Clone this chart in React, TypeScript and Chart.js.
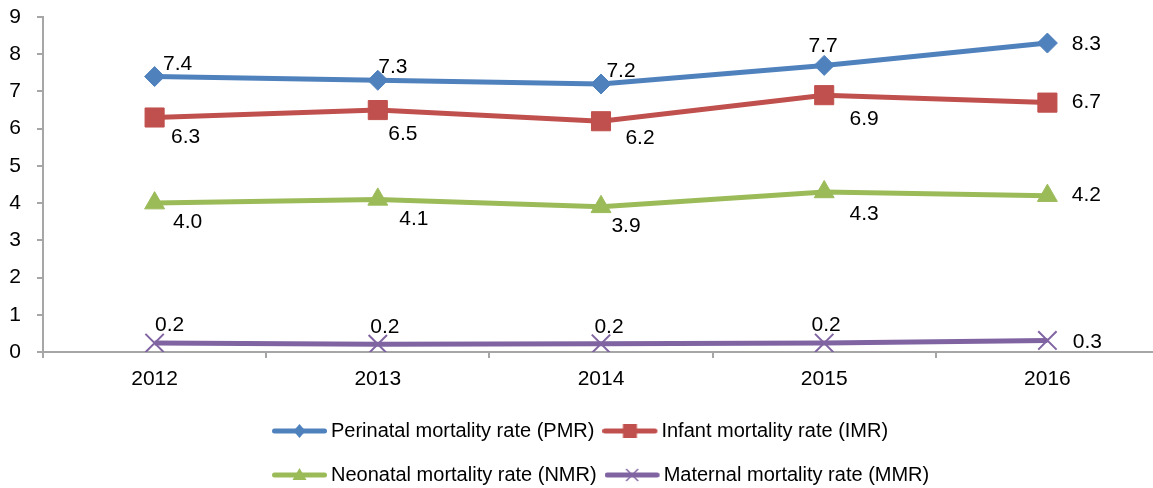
import React, { useEffect, useRef } from 'react';
import { Chart, registerables } from 'chart.js';

Chart.register(...registerables);

// ---- data ----
const years = ['2012', '2013', '2014', '2015', '2016'];
const pmrValues = [7.4, 7.3, 7.2, 7.7, 8.3];
const imrValues = [6.3, 6.5, 6.2, 6.9, 6.7];
const nmrValues = [4.0, 4.1, 3.9, 4.3, 4.2];
const mmrValues = [0.24, 0.21, 0.22, 0.24, 0.31];
const seriesNames = [
  'Perinatal mortality rate (PMR)',
  'Infant mortality rate (IMR)',
  'Neonatal mortality rate (NMR)',
  'Maternal mortality rate (MMR)',
];
const yMin = 0;
const yMax = 9;
const yStep = 1;

// ---- styles / layout ----
const FONT = "'Liberation Sans', Arial, sans-serif";
const colors = ['#4F81BD', '#C0504D', '#9BBB59', '#8064A2'];
const shapes = ['rectRot', 'rect', 'triangle', 'crossRot'];
const radii = [10, 13.5, 11.5, 13];
const axisColor = '#A6A6A6';
// data label offsets (text centre relative to the point), per series, per point
const labelOffsets = [
  [[23, -12], [15, -13], [20, -13], [-1, -19], [39, 1]],
  [[31, 20], [25, 24], [39, 17], [40, 24], [39, 0]],
  [[33, 19], [36, 20], [25, 19], [40, 22], [39, 0]],
  [[15, -18], [7, -17], [8, -17], [2, -18], [40, 2]],
];

function makeLegendIcon(color: string, shape: string): HTMLCanvasElement {
  const c = document.createElement('canvas');
  c.width = 65;
  c.height = 20;
  const g = c.getContext('2d')!;
  g.strokeStyle = color;
  g.fillStyle = color;
  g.lineWidth = 5;
  g.lineCap = 'round';
  g.beginPath();
  g.moveTo(2.5, 10);
  g.lineTo(52.5, 10);
  g.stroke();
  const cx = 27.5;
  const cy = 10;
  g.beginPath();
  if (shape === 'rectRot') {
    g.moveTo(cx - 6, cy);
    g.lineTo(cx, cy - 7);
    g.lineTo(cx + 6, cy);
    g.lineTo(cx, cy + 7);
    g.closePath();
    g.fill();
  } else if (shape === 'rect') {
    g.rect(cx - 7, cy - 7, 14, 14);
    g.fill();
  } else if (shape === 'triangle') {
    g.moveTo(cx, cy - 7);
    g.lineTo(cx + 7, cy + 5);
    g.lineTo(cx - 7, cy + 5);
    g.closePath();
    g.fill();
  } else {
    g.lineWidth = 1.5;
    g.lineCap = 'butt';
    g.moveTo(cx - 6, cy - 6);
    g.lineTo(cx + 6, cy + 6);
    g.moveTo(cx + 6, cy - 6);
    g.lineTo(cx - 6, cy + 6);
    g.stroke();
  }
  return c;
}

const dataLabelPlugin = {
  id: 'dataLabelPlugin',
  afterDatasetsDraw(chart: any) {
    const ctx = chart.ctx;
    ctx.save();
    ctx.font = `21px ${FONT}`;
    ctx.fillStyle = '#000';
    ctx.textAlign = 'center';
    ctx.textBaseline = 'middle';
    chart.data.datasets.forEach((ds: any, di: number) => {
      const meta = chart.getDatasetMeta(di);
      meta.data.forEach((pt: any, i: number) => {
        const v = ds.data[i] as number;
        const off = labelOffsets[di][i];
        ctx.fillText(v.toFixed(1), pt.x + off[0], pt.y + off[1]);
      });
    });
    ctx.restore();
  },
};

// place the two-row legend block like the reference (rows left-aligned)
const legendPlacer = {
  id: 'legendPlacer',
  beforeDraw(chart: any) {
    const lg = chart.legend;
    if (!lg) return;
    lg.left = 264;
    lg.right = 1000;
    lg.top = 397;
  },
};

function zeroPadding(s: any) {
  s.paddingTop = 0;
  s.paddingBottom = 0;
  s.paddingLeft = 0;
  s.paddingRight = 0;
}

export default function App() {
  const canvasRef = useRef<HTMLCanvasElement | null>(null);

  useEffect(() => {
    document.documentElement.style.overflow = 'hidden';
    document.body.style.margin = '0';
    document.body.style.overflow = 'hidden';
    const canvas = canvasRef.current;
    if (!canvas) return;
    Chart.defaults.font.family = FONT;
    Chart.defaults.color = '#000';

    const seriesValues = [pmrValues, imrValues, nmrValues, mmrValues];
    const icons = colors.map((c, i) => makeLegendIcon(c, shapes[i]));

    const chart = new Chart(canvas, {
      type: 'line',
      data: {
        labels: years,
        datasets: seriesValues.map((vals, i) => ({
          label: seriesNames[i],
          data: vals,
          borderColor: colors[i],
          backgroundColor: colors[i],
          borderWidth: 5,
          tension: 0,
          fill: false,
          pointStyle: shapes[i] as any,
          pointRadius: radii[i],
          pointHoverRadius: radii[i],
          pointBackgroundColor: colors[i],
          pointBorderColor: colors[i],
          pointBorderWidth: shapes[i] === 'crossRot' ? 2 : 1,
        })),
      },
      options: {
        animation: false,
        responsive: false,
        devicePixelRatio: 1,
        events: [],
        layout: { autoPadding: false, padding: { left: 0, right: 0, top: 17, bottom: 0 } },
        scales: {
          x: {
            type: 'category',
            offset: true,
            grid: {
              display: true,
              offset: true,
              drawOnChartArea: false,
              drawTicks: true,
              tickLength: 6,
              color: axisColor,
              lineWidth: 2,
            },
            border: { display: true, color: axisColor, width: 2 },
            ticks: {
              color: '#000',
              font: { size: 21, family: FONT },
              padding: 9,
              maxRotation: 0,
              autoSkip: false,
            },
            afterFit: (s: any) => {
              s.height = 38;
              zeroPadding(s);
            },
          },
          y: {
            min: yMin,
            max: yMax,
            grid: {
              display: true,
              drawOnChartArea: false,
              drawTicks: true,
              tickLength: 6,
              color: axisColor,
              lineWidth: 2,
            },
            border: { display: true, color: axisColor, width: 2 },
            ticks: {
              stepSize: yStep,
              color: '#000',
              font: { size: 21, family: FONT },
              padding: 16,
            },
            afterFit: (s: any) => {
              s.width = 43;
              zeroPadding(s);
            },
          },
        },
        plugins: {
          tooltip: { enabled: false },
          title: { display: false },
          legend: {
            display: true,
            position: 'bottom',
            align: 'start',
            labels: {
              usePointStyle: true,
              pointStyleWidth: 33,
              padding: 24,
              color: '#000',
              font: { size: 20, family: FONT },
              generateLabels: (ch: any) =>
                ch.data.datasets.map((ds: any, i: number) => ({
                  text: ds.label,
                  pointStyle: icons[i],
                  fillStyle: colors[i],
                  strokeStyle: colors[i],
                  lineWidth: 0,
                  hidden: false,
                  datasetIndex: i,
                  fontColor: '#000',
                })),
            },
          },
        },
      },
      plugins: [dataLabelPlugin, legendPlacer],
    });

    return () => {
      chart.destroy();
    };
  }, []);

  return (
    <div style={{ width: 1153, height: 488, overflow: 'hidden', background: '#fff' }}>
      <canvas ref={canvasRef} width={1159} height={488} style={{ display: 'block' }} />
    </div>
  );
}
